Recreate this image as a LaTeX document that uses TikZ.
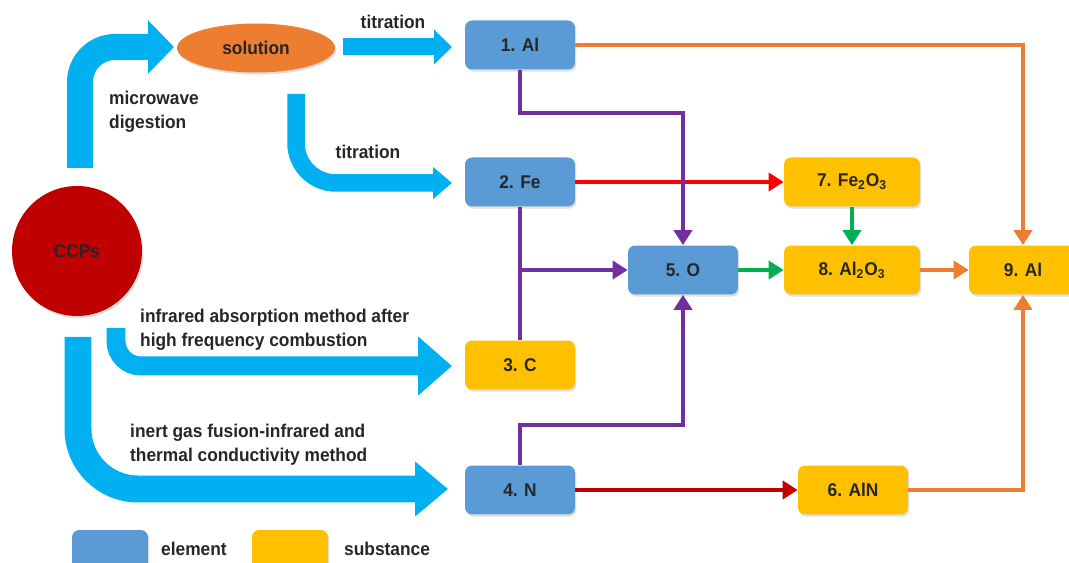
\documentclass[tikz,border=0pt]{standalone}
\usepackage{fontspec}
\setmainfont{Liberation Sans}[FakeStretch=0.94]
\usetikzlibrary{arrows.meta,shapes.geometric,shadows}
\definecolor{elemblue}{HTML}{5B9BD5}
\definecolor{substyellow}{HTML}{FFC000}
\definecolor{flowcyan}{HTML}{00B0F0}
\definecolor{lineorange}{HTML}{ED7D31}
\definecolor{linepurple}{HTML}{7030A0}
\definecolor{linered}{HTML}{FF0000}
\definecolor{linedarkred}{HTML}{C00000}
\definecolor{linegreen}{HTML}{00B050}
\definecolor{ccpred}{HTML}{C00000}
\definecolor{textgray}{HTML}{262626}

\begin{document}
\begin{tikzpicture}[x=0.02cm, y=-0.02cm,
	every node/.style={font=\bfseries\fontsize{10.5}{13.6}\selectfont, text=textgray},
	box/.style={rectangle, rounded corners=4pt, minimum width=2.2cm, minimum height=0.98cm,
		drop shadow={shadow xshift=0.8pt, shadow yshift=-1.2pt, opacity=0.25}},
	elem/.style={box, fill=elemblue},
	subst/.style={box, fill=substyellow},
	flow/.style={draw=flowcyan, line width=#1},
	link/.style={line width=2.3pt, -{Triangle[length=0.3cm,width=0.36cm]}},
	note/.style={align=left, anchor=west}]
	\clip (0,0) rectangle (1069,563);

	% sources
	\node[circle, fill=ccpred, minimum size=2.6cm,
		drop shadow={shadow xshift=0.8pt, shadow yshift=-1.2pt, opacity=0.25}] (ccp) at (77,251) {CCPs};
	\node[ellipse, fill=lineorange, minimum width=3.16cm, minimum height=0.98cm, inner sep=0pt,
		drop shadow={shadow xshift=0.8pt, shadow yshift=-1.2pt, opacity=0.25}] (sol) at (256,48) {solution};

	% elements and substances
	\node[elem] (al1) at (520,45) {1. Al};
	\node[elem] (fe2) at (520,182) {2. Fe};
	\node[subst] (c3) at (520,365) {3. C};
	\node[elem] (n4) at (520,490) {4. N};
	\node[elem] (o5) at (683,270) {5. O};
	\node[subst] (aln6) at (853,490) {6. AlN};
	\node[subst, minimum width=2.72cm] (fe7) at (852,182) {7. Fe\textsubscript{2}O\textsubscript{3}};
	\node[subst, minimum width=2.72cm] (al8) at (852,270) {8. Al\textsubscript{2}O\textsubscript{3}};
	\node[subst, minimum width=2.16cm] (al9) at (1023,270) {9. Al};

	% big flow arrows
	\coordinate (f1s) at (80,168);
	\coordinate (f1e) at (174,47);
	\coordinate (f2s) at (343,47);
	\coordinate (f2e) at (452,47);
	\coordinate (f3s) at (296,94);
	\coordinate (f3e) at (452,183);
	\coordinate (f4s) at (116,328);
	\coordinate (f4e) at (452,366);
	\coordinate (f5s) at (78,337);
	\coordinate (f5e) at (448,489);
	\draw[flow=0.52cm, -{Triangle[length=0.52cm,width=1.04cm]}] (f1s) [rounded corners=0.7cm] -- (f1s |- f1e) -- (f1e);
	\draw[flow=0.34cm, -{Triangle[length=0.36cm,width=0.68cm]}] (f2s) -- (f2e);
	\draw[flow=0.35cm, -{Triangle[length=0.38cm,width=0.62cm]}] (f3s) [rounded corners=0.8cm] -- (f3s |- f3e) -- (f3e);
	\draw[flow=0.38cm, -{Triangle[length=0.68cm,width=1.14cm]}] (f4s) [rounded corners=0.5cm] -- (f4s |- f4e) -- (f4e);
	\draw[flow=0.54cm, -{Triangle[length=0.66cm,width=1.06cm]}] (f5s) [rounded corners=1.2cm] -- (f5s |- f5e) -- (f5e);

	% method labels
	\node (t1) at (393,22) {titration};
	\node[note] (mw) at (103,112) {microwave\\digestion};
	\node (t2) at (368,152) {titration};
	\node[note] (ir) at (134,330) {infrared absorption method after\\high frequency combustion};
	\node[note] (ig) at (124,445) {inert gas fusion-infrared and\\thermal conductivity method};

	% connectors
	\draw[link, lineorange] (al1.east) -| (al9.north);
	\draw[link, linered] (fe2.east) -- (fe7.west);
	\draw[link, linepurple] (al1.south) -- (al1.south |- 0,113) -| (o5.north);
	\draw[line width=2.3pt, linepurple] (fe2.south) -- (c3.north);
	\draw[link, linepurple] (fe2.south |- o5.west) -- (o5.west);
	\draw[link, linepurple] (n4.north) -- (n4.north |- 0,425) -| (o5.south);
	\draw[link, linedarkred] (n4.east) -- (aln6.west);
	\draw[link, linegreen] (fe7.south) -- (al8.north);
	\draw[link, linegreen] (o5.east) -- (al8.west);
	\draw[link, lineorange] (al8.east) -- (al9.west);
	\draw[link, lineorange] (aln6.east) -| (al9.south);

	% legend
	\node[elem, minimum width=1.52cm, minimum height=1cm] (key1) at (110,555) {};
	\node[anchor=west] (key1t) at (155,549) {element};
	\node[subst, minimum width=1.52cm, minimum height=1cm] (key2) at (290,555) {};
	\node[anchor=west] (key2t) at (338,549) {substance};
\end{tikzpicture}
\end{document}
